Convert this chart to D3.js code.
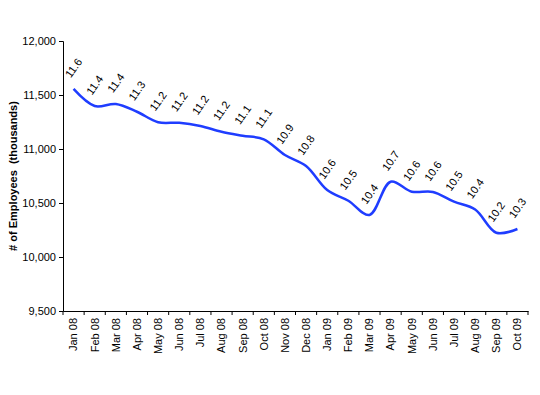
<!DOCTYPE html>
<html lang="en">
<head>
<meta charset="UTF-8">
<title>Employees</title>
<script src="https://cdn.jsdelivr.net/npm/d3@7"></script>
<style>
  body { margin: 0; background: #fff; }
  text { font-family: "Liberation Sans", Arial, sans-serif; }
</style>
</head>
<body>
<svg width="540" height="395"></svg>
<script>
const months = ["Jan 08","Feb 08","Mar 08","Apr 08","May 08","Jun 08","Jul 08","Aug 08","Sep 08","Oct 08","Nov 08","Dec 08",
                "Jan 09","Feb 09","Mar 09","Apr 09","May 09","Jun 09","Jul 09","Aug 09","Sep 09","Oct 09"];
const employees = [11556, 11398, 11417, 11345, 11248, 11243, 11213, 11160, 11123, 11090, 10944, 10843,
                   10620, 10521, 10389, 10697, 10605, 10602, 10512, 10440, 10225, 10259];
const yTicks = [9500, 10000, 10500, 11000, 11500, 12000];

const data = months.map((m, i) => ({month: m, value: employees[i]}));

const svg = d3.select("svg");
const plot = {left: 63, right: 528, top: 41, bottom: 311};

const x = d3.scaleBand().domain(months).range([plot.left, plot.right]).padding(0);
const y = d3.scaleLinear().domain([9500, 12000]).range([plot.bottom, plot.top]);

// y axis
const yAxis = svg.append("g")
    .attr("transform", "translate(" + plot.left + ",0)")
    .call(d3.axisLeft(y).tickValues(yTicks).tickFormat(d3.format(",")).tickSize(4).tickPadding(3));
yAxis.selectAll("text").style("font-size", "11px").attr("fill", "#000");
yAxis.selectAll("line, path").attr("stroke", "#000");

// x axis: labels at centres, ticks at band boundaries
const xAxis = svg.append("g")
    .attr("transform", "translate(0," + plot.bottom + ")")
    .call(d3.axisBottom(x).tickSize(0).tickSizeOuter(0));
xAxis.select("path").attr("stroke", "#000");
xAxis.selectAll("text")
    .style("font-size", "11px")
    .attr("fill", "#000")
    .attr("text-anchor", "end")
    .attr("dy", "0.35em")
    .attr("transform", "translate(0,7) rotate(-90)")
    .attr("x", 0).attr("y", 0);

const bounds = months.map(m => x(m)).concat([x.range()[1]]);
xAxis.selectAll(".bound").data(bounds).join("line")
    .attr("class", "bound")
    .attr("x1", d => d).attr("x2", d => d)
    .attr("y1", 0).attr("y2", 4)
    .attr("stroke", "#000");

// axis title
svg.append("text")
    .attr("transform", "translate(17," + ((plot.top + plot.bottom) / 2) + ") rotate(-90)")
    .attr("text-anchor", "middle")
    .style("font-size", "11px")
    .style("font-weight", "bold")
    .attr("xml:space", "preserve")
    .text("# of Employees  (thousands)");

// line
const cx = d => x(d.month) + x.bandwidth() / 2;
svg.append("path")
    .datum(data)
    .attr("fill", "none")
    .attr("stroke", "#1f3dff")
    .attr("stroke-width", 2.5)
    .attr("d", d3.line().x(cx).y(d => y(d.value)).curve(d3.curveCatmullRom.alpha(0.5)));

// value labels
svg.selectAll(".lbl").data(data).join("text")
    .attr("class", "lbl")
    .attr("transform", d => "translate(" + cx(d) + "," + (y(d.value) - 21) + ") rotate(-55)")
    .attr("text-anchor", "middle")
    .attr("dy", "0.35em")
    .style("font-size", "11px")
    .text(d => d3.format(".1f")(d.value / 1000));
</script>
</body>
</html>
